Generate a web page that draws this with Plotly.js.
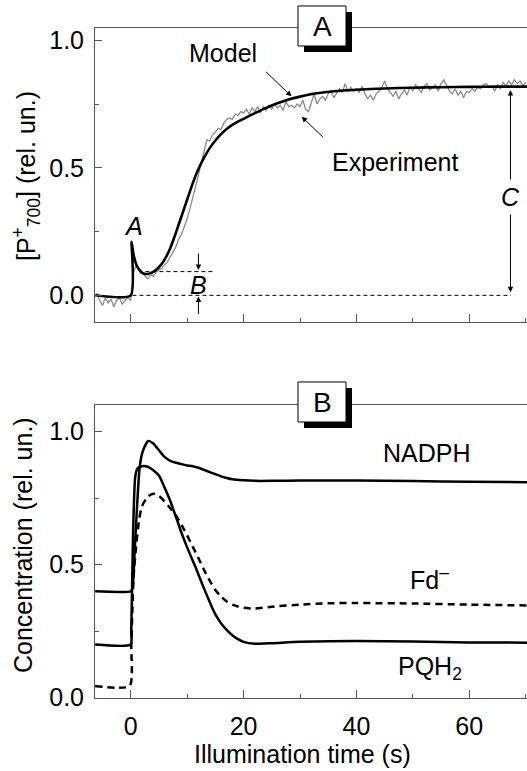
<!DOCTYPE html>
<html><head><meta charset="utf-8">
<script src="https://cdn.plot.ly/plotly-3.0.1.min.js"></script>
<style>html,body{margin:0;padding:0;background:#fff}#chart{width:527px;height:771px}</style>
</head><body><div id="chart"></div>
<script>
// ---- Panel A: P700+ kinetics ----
const expTime = [-6,-5.5,-5,-4.5,-4,-3.5,-3,-2.5,-2,-1.5,-1,-0.5,0,0.5,1,1.5,2,2.5,3,3.5,4,4.5,5,5.5,6,6.5,7,7.5,8,8.5,9,9.5,10,10.5,11,11.5,12,12.5,13,13.5,14,14.5,15,15.5,16,16.5,17,17.5,18,18.5,19,19.5,20,20.5,21,21.5,22,22.5,23,23.5,24,24.5,25,25.5,26,26.5,27,27.5,28,28.5,29,29.5,30,30.5,31,31.5,32,32.5,33,33.5,34,34.5,35,35.5,36,36.5,37,37.5,38,38.5,39,39.5,40,40.5,41,41.5,42,42.5,43,43.5,44,44.5,45,45.5,46,46.5,47,47.5,48,48.5,49,49.5,50,50.5,51,51.5,52,52.5,53,53.5,54,54.5,55,55.5,56,56.5,57,57.5,58,58.5,59,59.5,60,60.5,61,61.5,62,62.5,63,63.5,64,64.5,65,65.5,66,66.5,67,67.5,68,68.5,69,69.5,70];
const expValue = [0.01,-0.02,-0.04,-0.01,-0.03,-0.015,-0.045,-0.02,-0.01,-0.035,-0.02,-0.01,-0.02,
0.09,0.12,0.105,0.095,0.075,0.065,0.08,0.075,0.09,0.10,
0.105,0.12,0.13,0.15,0.17,0.19,0.22,0.24,0.27,0.30,
0.34,0.38,0.42,0.47,0.52,0.57,0.61,0.605,0.63,0.64,
0.655,0.65,0.675,0.69,0.695,0.69,0.71,0.705,0.72,0.715,
0.73,0.71,0.735,0.72,0.74,0.715,0.74,0.725,0.745,0.73,
0.75,0.735,0.745,0.725,0.76,0.74,0.745,0.735,0.75,0.74,
0.765,0.73,0.72,0.755,0.79,0.75,0.77,0.78,0.765,0.79,
0.80,0.775,0.79,0.81,0.795,0.83,0.80,0.815,0.80,0.81,
0.795,0.82,0.79,0.77,0.785,0.765,0.79,0.80,0.815,0.84,
0.81,0.795,0.78,0.80,0.77,0.79,0.805,0.785,0.82,0.80,
0.825,0.81,0.795,0.82,0.83,0.805,0.815,0.825,0.80,0.83,
0.845,0.82,0.80,0.79,0.81,0.785,0.80,0.775,0.80,0.795,
0.81,0.80,0.815,0.81,0.825,0.83,0.815,0.82,0.80,0.825,
0.81,0.835,0.82,0.84,0.825,0.845,0.83,0.84,0.82,0.835];
const modelTime = [-6.3,0,0.15,0.5,1,1.5,2,2.8,3.5,4,5,6,7,8,9,10,11,12,13,14,15,16,17,18,19,20,22,24,26,28,30,33,36,40,45,50,55,60,65,70.3];
const modelValue = [0,0,0.21,0.16,0.12,0.10,0.088,0.083,0.087,0.092,0.11,0.14,0.185,0.245,0.31,0.375,0.44,0.495,0.54,0.577,0.607,0.632,0.652,0.668,0.681,0.692,0.714,0.735,0.753,0.768,0.779,0.792,0.80,0.806,0.811,0.814,0.816,0.817,0.818,0.818];

// ---- Panel B: concentrations ----
const nadphTime = [-6.3,0,0.3,0.7,1.0,1.6,2.2,3.1,4,5,6,7,8,9,10,11,12,13,14,15,16,17,18,20,22,25,30,40,50,60,70.3];
const nadphValue = [0.40,0.40,0.41,0.55,0.67,0.87,0.93,0.965,0.955,0.93,0.905,0.89,0.883,0.878,0.873,0.87,0.864,0.856,0.848,0.84,0.832,0.826,0.821,0.817,0.815,0.815,0.816,0.816,0.814,0.812,0.81];
const pqTime = [-6.3,0,0.1,0.4,0.8,1.2,2,3,4,5,6,7,8,8.5,9,10,11,11.5,12,13,14,14.5,15,16,17,18,19,20,22,25,30,40,50,60,70.3];
const pqValue = [0.20,0.20,0.25,0.60,0.83,0.862,0.87,0.868,0.855,0.835,0.79,0.74,0.68,0.65,0.62,0.565,0.515,0.49,0.463,0.41,0.36,0.335,0.313,0.28,0.255,0.235,0.22,0.21,0.203,0.205,0.21,0.213,0.211,0.208,0.207];
const fdTime = [-6.3,-0.2,0.1,0.5,1,1.5,2,3,4,5,6,7,8,9,10,11,12,13,14,15,16,17,18,19,20,22,25,30,35,40,50,60,70.3];
const fdValue = [0.044,0.044,0.2,0.45,0.58,0.67,0.72,0.755,0.767,0.758,0.738,0.712,0.685,0.65,0.61,0.567,0.525,0.48,0.44,0.405,0.38,0.362,0.35,0.343,0.338,0.335,0.342,0.35,0.355,0.356,0.354,0.35,0.347];

const xTickVals = [0,20,40,60];
const xTickText = ['0','20','40','60'];
const yTickVals = [0,0.5,1];
const yTickText = ['0.0','0.5','1.0'];

const FONT = '"Liberation Sans", Arial, Helvetica, sans-serif';
const AX = '#555';
const fx = px => (px - 95) / 432;
const fy = py => (698 - py) / 670;

const traces = [
  {x: expTime, y: expValue, xaxis: 'x', yaxis: 'y', mode: 'lines', line: {color: '#8a8a8a', width: 1.3}, hoverinfo: 'skip'},
  {x: modelTime, y: modelValue, xaxis: 'x', yaxis: 'y', mode: 'lines', line: {color: '#000', width: 2.6, shape: 'spline', smoothing: 0.6}, hoverinfo: 'skip'},
  {x: nadphTime, y: nadphValue, xaxis: 'x2', yaxis: 'y2', mode: 'lines', line: {color: '#000', width: 2.5, shape: 'spline', smoothing: 0.6}},
  {x: pqTime, y: pqValue, xaxis: 'x2', yaxis: 'y2', mode: 'lines', line: {color: '#000', width: 2.5, shape: 'spline', smoothing: 0.6}},
  {x: fdTime, y: fdValue, xaxis: 'x2', yaxis: 'y2', mode: 'lines', line: {color: '#000', width: 2.5, dash: '7px,5px', shape: 'spline', smoothing: 0.6}}
];

const xCommon = {
  range: [-6.33, 70.23], showgrid: false, zeroline: false, showline: true, linecolor: AX, linewidth: 1, mirror: true,
  ticks: 'inside', ticklen: 8, tickwidth: 1, tickcolor: AX, tickvals: xTickVals, ticktext: xTickText,
  minor: {ticks: 'inside', ticklen: 4, tickwidth: 1, tickcolor: AX, dtick: 10, tick0: 0},
  tickfont: {family: FONT, size: 25, color: '#000'}
};
const yCommon = {
  showgrid: false, zeroline: false, showline: true, linecolor: AX, linewidth: 1, mirror: true,
  ticks: 'inside', ticklen: 7, tickwidth: 1, tickcolor: AX, tickvals: yTickVals, ticktext: yTickText,
  minor: {ticks: 'inside', ticklen: 4, tickwidth: 1, tickcolor: AX, dtick: 0.25, tick0: 0},
  tickfont: {family: FONT, size: 25, color: '#000'}, ticklabelstandoff: 5
};

const txt = (s, x, y, size, extra) => Object.assign({text: s, x: x, y: y, showarrow: false, xanchor: 'center', yanchor: 'middle', font: {family: FONT, size: size, color: '#000'}}, extra || {});
const arr = (x, y, ax, ay, xr, yr, extra) => Object.assign({text: '', x: x, y: y, ax: ax, ay: ay, xref: xr, yref: yr, showarrow: true, arrowhead: 2, arrowsize: 1.1, arrowwidth: 1, arrowcolor: '#000', standoff: 0}, extra || {});

const annotations = [
  txt('Model', 16.4, 0.95, 25, {xref: 'x', yref: 'y'}),
  arr(28.5, 0.78, -27, -26, 'x', 'y'),
  txt('Experiment', 46.8, 0.524, 25, {xref: 'x', yref: 'y'}),
  arr(30.3, 0.70, 23, 22, 'x', 'y'),
  txt('<i>A</i>', 0.46, 0.27, 25, {xref: 'x', yref: 'y'}),
  txt('<i>B</i>', 12.0, 0.04, 25, {xref: 'x', yref: 'y'}),
  arr(12.0, 0.099, 0, -18, 'x', 'y'),
  arr(12.0, -0.005, 0, 19, 'x', 'y'),
  arr(67.3, 0.805, 67.3, 0.006, 'x', 'y', {axref: 'x', ayref: 'y', arrowside: 'end+start'}),
  txt('<i>C</i>', 67.3, 0.387, 25, {xref: 'x', yref: 'y', bgcolor: '#fff', borderpad: 3}),
  txt('NADPH', 52.45, 0.921, 25, {xref: 'x2', yref: 'y2'}),
  txt('Fd<sup>\u2013</sup>', 53.0, 0.45, 25, {xref: 'x2', yref: 'y2'}),
  txt('PQH<sub>2</sub>', 53.0, 0.112, 25, {xref: 'x2', yref: 'y2'}),
  txt('A', fx(322), fy(26), 28, {xref: 'paper', yref: 'paper'}),
  txt('B', fx(322), fy(402), 28, {xref: 'paper', yref: 'paper'}),
  txt('[P<sup>+</sup><sub>700</sub>] (rel. un.)', fx(26), fy(176), 25, {xref: 'paper', yref: 'paper', textangle: -90}),
  txt('Concentration (rel. un.)', fx(23), fy(545), 25, {xref: 'paper', yref: 'paper', textangle: -90}),
  txt('Illumination time (s)', fx(302), fy(754), 25, {xref: 'paper', yref: 'paper'})
];

const shapes = [
  {type: 'line', xref: 'x', yref: 'y', x0: 0.3, x1: 67.4, y0: 0, y1: 0, line: {color: '#000', width: 1, dash: '4px,3px'}},
  {type: 'line', xref: 'x', yref: 'y', x0: 2.6, x1: 14.6, y0: 0.093, y1: 0.093, line: {color: '#000', width: 1, dash: '4px,3px'}},
  {type: 'rect', xref: 'paper', yref: 'paper', x0: fx(304), x1: fx(352), y0: fy(52), y1: fy(12), fillcolor: '#000', line: {width: 0}},
  {type: 'rect', xref: 'paper', yref: 'paper', x0: fx(298), x1: fx(346), y0: fy(46), y1: fy(6), fillcolor: '#fff', line: {color: '#000', width: 1}},
  {type: 'rect', xref: 'paper', yref: 'paper', x0: fx(304), x1: fx(352), y0: fy(428), y1: fy(388), fillcolor: '#000', line: {width: 0}},
  {type: 'rect', xref: 'paper', yref: 'paper', x0: fx(298), x1: fx(346), y0: fy(422), y1: fy(382), fillcolor: '#fff', line: {color: '#000', width: 1}}
];

const layout = {
  width: 527, height: 771, showlegend: false,
  margin: {l: 95, r: 0, t: 28, b: 73},
  paper_bgcolor: '#fff', plot_bgcolor: '#fff',
  font: {family: FONT, size: 25, color: '#000'},
  xaxis: Object.assign({}, xCommon, {anchor: 'y', showticklabels: false}),
  yaxis: Object.assign({}, yCommon, {domain: [0.5616, 1], range: [-0.1035, 1.048], anchor: 'x'}),
  xaxis2: Object.assign({}, xCommon, {anchor: 'y2', ticklabelstandoff: 6}),
  yaxis2: Object.assign({}, yCommon, {domain: [0, 0.4373], range: [-0.001, 1.1], anchor: 'x2'}),
  annotations: annotations,
  shapes: shapes
};

Plotly.newPlot('chart', traces, layout, {staticPlot: true, displayModeBar: false});
</script>
</body></html>
